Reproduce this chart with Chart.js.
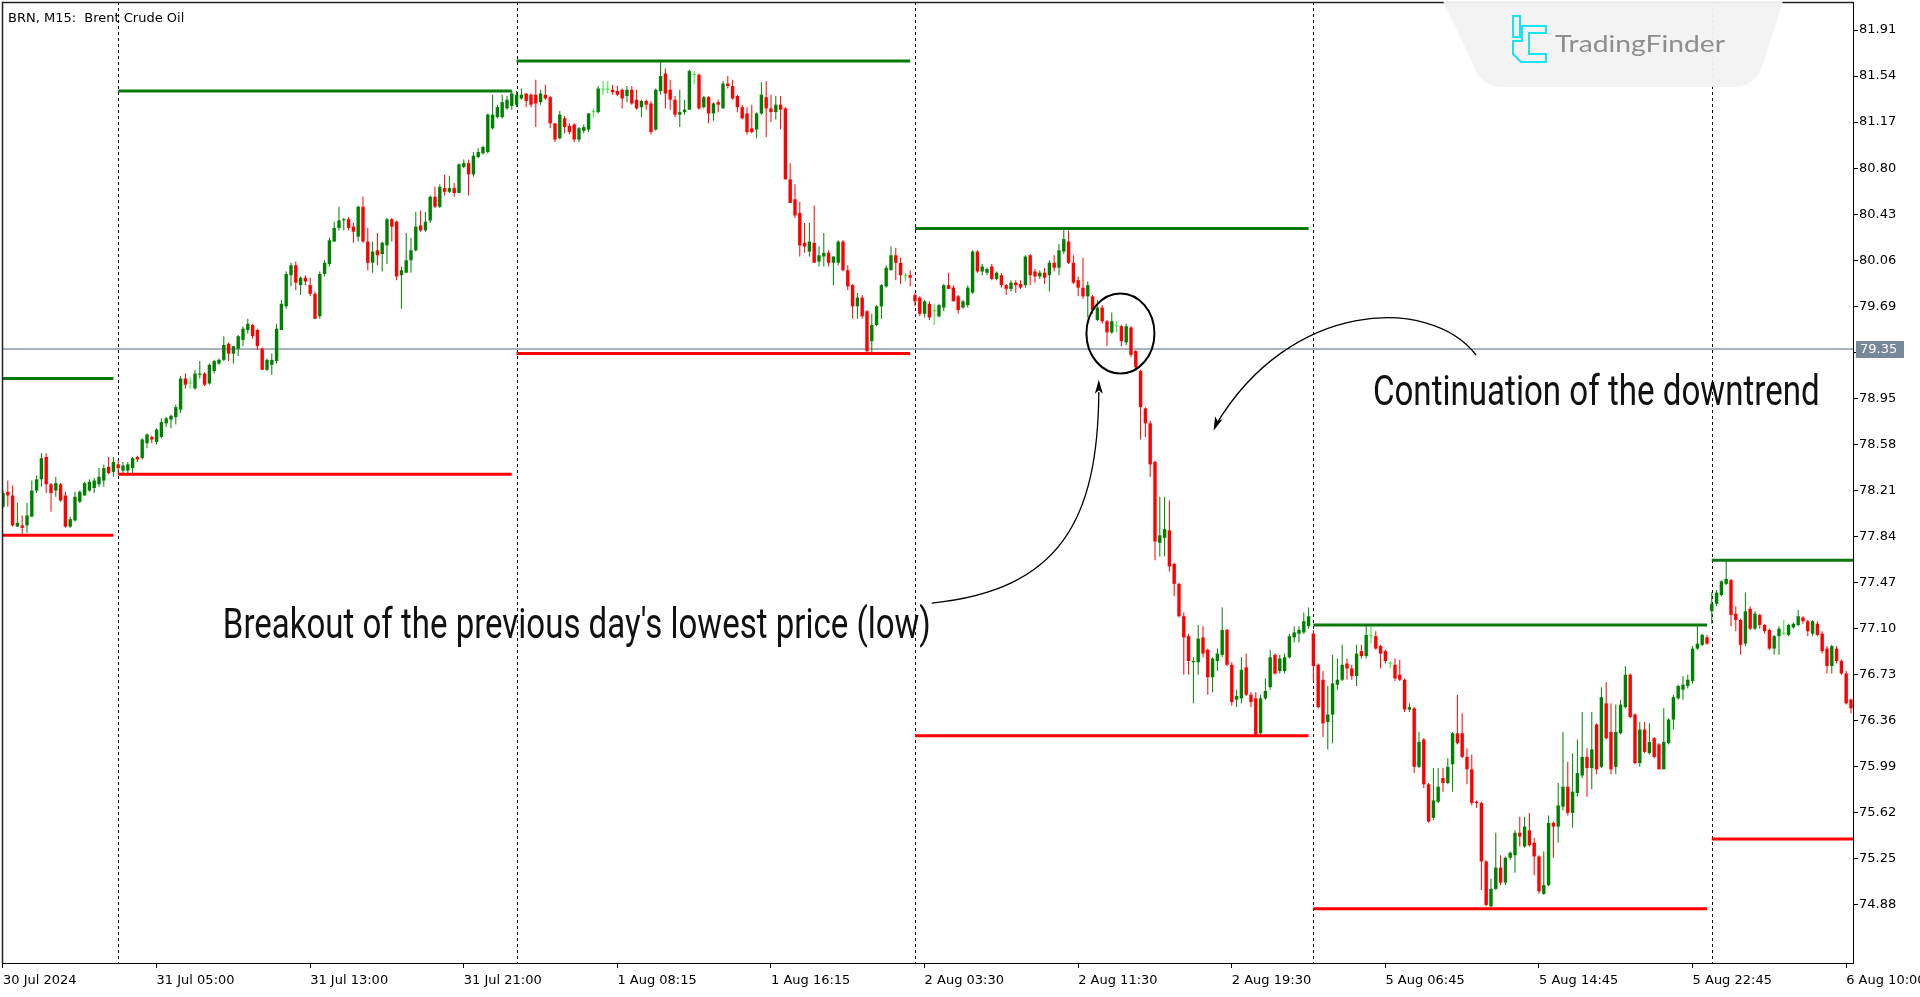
<!DOCTYPE html>
<html><head><meta charset="utf-8">
<script src="https://cdn.jsdelivr.net/npm/chart.js@4.4.1/dist/chart.umd.min.js"></script>
<style>html,body{margin:0;padding:0;background:#fff;overflow:hidden}canvas{display:block}</style>
</head><body>
<canvas id="c" width="1920" height="997"></canvas>
<script>
// ---- M15 candles [open, high, low, close], one array per trading day ----
const jul30 = [
[78.08,78.21,78.07,78.19],[78.20,78.29,78.08,78.17],[78.17,78.25,77.92,77.93],[77.92,78.11,77.92,77.95],
[77.93,78.01,77.86,77.91],[77.93,78.11,77.87,78.01],[78.00,78.29,78.00,78.21],[78.21,78.33,78.19,78.30],
[78.30,78.51,78.24,78.47],[78.48,78.51,78.19,78.26],[78.26,78.27,78.04,78.19],[78.21,78.32,78.16,78.27],
[78.26,78.27,78.12,78.13],[78.17,78.20,77.91,77.92],[77.92,78.00,77.91,77.98],[77.97,78.20,77.96,78.16],
[78.12,78.21,78.11,78.20],[78.17,78.28,78.17,78.27],[78.21,78.30,78.20,78.28],[78.23,78.31,78.19,78.29],
[78.26,78.39,78.24,78.32],[78.29,78.42,78.24,78.39],[78.40,78.48,78.34,78.35],[78.36,78.48,78.32,78.44]
];
const jul31 = [
[78.42,78.46,78.34,78.39],[78.37,78.44,78.34,78.41],[78.37,78.44,78.35,78.42],[78.39,78.48,78.35,78.47],
[78.48,78.49,78.44,78.46],[78.47,78.63,78.46,78.62],[78.59,78.67,78.55,78.66],[78.64,78.65,78.59,78.62],
[78.60,78.71,78.58,78.70],[78.64,78.79,78.63,78.76],[78.75,78.80,78.72,78.79],[78.78,78.82,78.71,78.81],
[78.80,78.90,78.74,78.88],[78.86,79.13,78.83,79.11],[79.11,79.15,79.03,79.06],[79.07,79.12,79.03,79.07],
[79.03,79.18,79.02,79.15],[79.14,79.25,79.11,79.15],[79.15,79.16,79.05,79.06],[79.07,79.23,79.06,79.22],
[79.17,79.26,79.15,79.25],[79.23,79.27,79.22,79.26],[79.26,79.45,79.25,79.38],[79.39,79.40,79.25,79.31],
[79.31,79.37,79.23,79.37],[79.35,79.46,79.29,79.45],[79.42,79.53,79.37,79.51],[79.50,79.59,79.47,79.55],
[79.54,79.55,79.43,79.45],[79.50,79.51,79.34,79.37],[79.35,79.36,79.18,79.18],[79.18,79.27,79.17,79.26],
[79.22,79.31,79.14,79.26],[79.25,79.55,79.23,79.51],[79.50,79.74,79.50,79.71],[79.69,79.97,79.67,79.95],
[79.94,80.04,79.85,80.02],[80.02,80.05,79.82,79.88],[79.86,79.93,79.78,79.92],[79.92,79.94,79.86,79.89],
[79.86,79.92,79.77,79.79],[79.79,79.81,79.59,79.59],[79.61,79.97,79.59,79.95],[79.95,80.06,79.93,80.04],
[80.03,80.24,80.01,80.22],[80.21,80.37,80.21,80.32],[80.32,80.49,80.30,80.38],[80.38,80.40,80.30,80.39],
[80.39,80.41,80.30,80.32],[80.33,80.36,80.20,80.29],[80.25,80.50,80.21,80.49],[80.49,80.57,80.20,80.21],
[80.21,80.32,79.98,80.04],[80.04,80.21,79.96,80.13],[80.14,80.28,80.02,80.10],[80.11,80.21,79.97,80.20],
[80.18,80.40,80.03,80.39],[80.39,80.40,80.21,80.33],[80.37,80.38,79.90,79.93],[79.94,80.01,79.67,79.98],
[79.96,80.28,79.96,80.06],[80.06,80.24,79.96,80.14],[80.14,80.45,80.13,80.33],[80.34,80.46,80.29,80.30],
[80.30,80.45,80.29,80.37],[80.38,80.58,80.36,80.57],[80.57,80.65,80.48,80.49],[80.49,80.67,80.48,80.65],
[80.64,80.75,80.58,80.61],[80.61,80.74,80.60,80.64],[80.64,80.68,80.57,80.60],[80.60,80.84,80.60,80.83],
[80.81,80.87,80.80,80.84],[80.84,80.87,80.58,80.75],[80.75,80.93,80.73,80.90],[80.89,80.96,80.88,80.93],
[80.92,80.98,80.91,80.97],[80.93,81.24,80.92,81.23],[81.12,81.39,81.11,81.23],[81.21,81.31,81.20,81.29],
[81.21,81.39,81.20,81.33],[81.28,81.38,81.27,81.35],[81.30,81.42,81.27,81.40]
];
const aug1 = [
[81.31,81.42,81.29,81.39],[81.36,81.44,81.35,81.39],[81.40,81.40,81.29,81.34],[81.39,81.40,81.29,81.31],
[81.39,81.51,81.13,81.32],[81.33,81.43,81.31,81.40],[81.39,81.47,81.35,81.36],[81.37,81.38,81.12,81.16],
[81.16,81.16,81.01,81.03],[81.04,81.26,81.03,81.23],[81.20,81.22,81.08,81.13],[81.14,81.16,81.07,81.09],
[81.15,81.16,81.01,81.03],[81.03,81.13,81.01,81.12],[81.10,81.15,81.08,81.13],[81.11,81.24,81.09,81.24],
[81.25,81.28,81.21,81.25],[81.25,81.46,81.24,81.44],[81.43,81.50,81.39,81.43],[81.43,81.50,81.40,81.43],
[81.43,81.47,81.39,81.41],[81.42,81.46,81.38,81.39],[81.43,81.44,81.28,81.36],[81.38,81.46,81.33,81.43],
[81.43,81.46,81.31,81.32],[81.35,81.43,81.27,81.28],[81.29,81.35,81.21,81.34],[81.34,81.35,81.27,81.31],
[81.32,81.34,81.07,81.09],[81.11,81.44,81.10,81.43],[81.42,81.66,81.39,81.54],[81.56,81.60,81.28,81.40],
[81.43,81.51,81.27,81.35],[81.35,81.38,81.21,81.23],[81.23,81.43,81.13,81.25],[81.25,81.35,81.23,81.27],
[81.27,81.59,81.27,81.58],[81.55,81.58,81.47,81.55],[81.55,81.56,81.27,81.28],[81.29,81.38,81.28,81.37],
[81.37,81.38,81.16,81.24],[81.24,81.33,81.18,81.32],[81.33,81.35,81.25,81.31],[81.28,81.50,81.28,81.48],
[81.48,81.54,81.44,81.46],[81.46,81.51,81.35,81.36],[81.38,81.39,81.25,81.29],[81.29,81.31,81.19,81.20],
[81.24,81.29,81.07,81.09],[81.12,81.31,81.08,81.09],[81.11,81.25,81.04,81.24],[81.24,81.49,81.23,81.39],
[81.37,81.50,81.05,81.28],[81.28,81.39,81.17,81.25],[81.25,81.38,81.19,81.31],[81.31,81.38,81.11,81.27],
[81.28,81.29,80.71,80.71],[80.71,80.84,80.52,80.52],[80.55,80.67,80.40,80.42],[80.44,80.53,80.09,80.18],
[80.20,80.36,80.12,80.17],[80.13,80.36,80.09,80.21],[80.20,80.50,80.04,80.04],[80.05,80.17,80.01,80.10],
[80.09,80.28,80.01,80.12],[80.12,80.14,80.01,80.04],[80.04,80.09,79.86,80.09],[80.04,80.22,80.02,80.21],
[80.21,80.22,79.97,79.98],[79.98,80.02,79.82,79.85],[79.86,79.87,79.59,79.69],[79.69,79.80,79.59,79.76],
[79.76,79.78,79.59,79.61],[79.65,79.66,79.31,79.33],[79.41,79.63,79.31,79.54],[79.54,79.70,79.53,79.69],
[79.69,79.87,79.59,79.86],[79.85,80.02,79.84,80.00],[79.98,80.17,79.98,80.10],[80.10,80.16,79.90,80.04],
[80.04,80.08,79.87,79.94],[79.93,79.96,79.89,79.93],[79.94,79.98,79.85,79.92]
];
const aug2 = [
[79.78,79.80,79.69,79.73],[79.76,79.77,79.61,79.63],[79.63,79.74,79.60,79.73],[79.71,79.73,79.58,79.60],
[79.65,79.71,79.54,79.65],[79.61,79.71,79.60,79.70],[79.68,79.87,79.65,79.86],[79.86,79.96,79.83,79.83],
[79.84,79.86,79.73,79.73],[79.77,79.78,79.63,79.66],[79.68,79.74,79.67,79.73],[79.70,79.86,79.68,79.84],
[79.80,80.14,79.79,80.13],[80.13,80.14,79.96,79.97],[79.97,80.03,79.94,80.01],[79.96,80.00,79.94,79.99],
[80.01,80.03,79.90,79.91],[79.91,79.97,79.90,79.96],[79.94,79.96,79.84,79.86],[79.86,79.87,79.78,79.83],
[79.83,79.90,79.81,79.88],[79.88,79.90,79.80,79.86],[79.87,79.90,79.83,79.84],[79.86,80.10,79.84,80.09],
[80.10,80.11,79.86,79.94],[79.97,79.99,79.88,79.93],[79.93,79.98,79.91,79.96],[79.96,80.00,79.87,79.92],
[79.94,80.06,79.81,80.04],[80.04,80.10,79.97,80.00],[80.00,80.19,79.94,80.14],[80.13,80.31,80.11,80.23],
[80.21,80.30,80.03,80.04],[80.04,80.10,79.87,79.88],[79.90,79.93,79.77,79.84],[79.84,80.08,79.75,79.77],
[79.77,79.89,79.60,79.86],[79.77,79.78,79.63,79.66],[79.58,79.74,79.57,79.68],[79.68,79.70,79.55,79.57],
[79.57,79.58,79.37,79.48],[79.48,79.64,79.47,79.57],[79.53,79.57,79.48,79.53],[79.53,79.54,79.37,79.41],
[79.40,79.55,79.38,79.53],[79.52,79.53,79.28,79.30],[79.33,79.34,79.17,79.20],[79.17,79.18,78.62,78.88],
[78.87,78.88,78.64,78.75],[78.75,78.77,78.32,78.42],[78.44,78.45,77.65,77.80],[77.79,78.16,77.68,77.85],
[77.83,78.16,77.68,77.90],[77.89,78.13,77.56,77.60],[77.62,77.63,77.36,77.46],[77.46,77.47,77.19,77.20],
[77.20,77.23,76.73,77.03],[77.04,77.06,76.73,76.84],[76.83,76.87,76.50,76.84],[76.83,77.13,76.73,77.02],
[77.03,77.12,76.87,76.90],[76.93,76.94,76.57,76.71],[76.71,76.87,76.59,76.86],[76.84,76.94,76.76,76.90],
[76.89,77.27,76.87,77.09],[77.09,77.10,76.80,76.81],[76.81,76.83,76.48,76.51],[76.53,76.61,76.47,76.56],
[76.54,76.87,76.50,76.77],[76.79,76.90,76.56,76.57],[76.57,76.59,76.47,76.51],[76.54,76.59,76.24,76.24],
[76.26,76.57,76.24,76.54],[76.54,76.70,76.53,76.60],[76.63,76.93,76.61,76.87],[76.89,76.90,76.73,76.74],
[76.76,76.89,76.74,76.86],[76.76,76.90,76.74,76.87],[76.87,77.06,76.86,77.04],[77.03,77.12,76.99,77.07],
[77.06,77.12,76.99,77.09],[77.07,77.23,77.06,77.16],[77.12,77.27,77.10,77.20]
];
const aug5 = [
[77.06,77.09,76.68,76.80],[76.81,76.82,76.46,76.47],[76.69,76.76,76.23,76.34],[76.35,76.64,76.13,76.41],
[76.41,76.89,76.18,76.66],[76.65,76.86,76.61,76.69],[76.69,76.97,76.68,76.81],[76.82,76.86,76.69,76.78],
[76.78,76.81,76.69,76.72],[76.72,76.97,76.64,76.90],[76.92,76.97,76.86,76.88],[76.88,77.13,76.86,77.05],
[77.04,77.12,76.98,77.04],[77.04,77.08,76.93,76.94],[76.96,76.97,76.78,76.90],[76.92,76.93,76.82,76.84],
[76.82,76.84,76.78,76.82],[76.81,76.86,76.68,76.70],[76.73,76.85,76.68,76.69],[76.69,76.70,76.43,76.45],
[76.45,76.50,76.43,76.47],[76.46,76.47,75.94,75.99],[75.99,76.27,75.98,76.19],[76.21,76.22,75.82,75.85],
[75.85,75.86,75.54,75.55],[75.58,75.98,75.56,75.72],[75.71,75.98,75.70,75.83],[75.90,75.98,75.79,75.86],
[75.86,76.06,75.85,75.99],[76.01,76.27,75.79,76.26],[76.26,76.57,76.17,76.18],[76.26,76.42,76.06,76.07],
[76.07,76.14,75.85,75.97],[75.97,76.09,75.68,75.70],[75.71,75.72,75.66,75.70],[75.70,75.71,75.00,75.23],
[75.23,75.24,74.87,74.88],[74.87,75.09,74.85,75.01],[75.01,75.46,75.00,75.18],[75.18,75.28,75.04,75.06],
[75.06,75.27,75.04,75.26],[75.26,75.31,75.24,75.30],[75.28,75.48,75.14,75.46],[75.46,75.59,75.35,75.43],
[75.35,75.59,75.34,75.51],[75.48,75.62,75.35,75.36],[75.38,75.42,75.12,75.27],[75.27,75.28,74.97,74.99],
[74.97,75.31,74.96,75.04],[75.04,75.60,75.03,75.54],[75.54,75.55,75.26,75.51],[75.51,75.86,75.38,75.68],
[75.67,76.27,75.64,75.83],[75.83,76.03,75.60,75.62],[75.62,76.10,75.50,75.79],[75.78,76.21,75.75,75.94],
[75.92,76.43,75.90,76.07],[76.07,76.14,75.75,75.98],[75.98,76.43,75.81,76.13],[76.33,76.34,75.93,75.97],
[75.99,76.63,75.98,76.55],[76.50,76.67,76.21,76.22],[76.27,76.50,75.93,75.97],[75.99,76.49,75.93,76.27],
[76.26,76.53,76.25,76.49],[76.47,76.80,76.46,76.73],[76.73,76.74,76.38,76.39],[76.41,76.42,76.01,76.02],
[76.02,76.35,75.99,76.29],[76.29,76.35,76.10,76.11],[76.10,76.34,76.09,76.19],[76.22,76.23,76.06,76.07],
[76.17,76.18,75.97,75.97],[75.97,76.46,75.97,76.19],[76.18,76.38,76.17,76.37],[76.37,76.57,76.29,76.55],
[76.54,76.65,76.53,76.64],[76.61,76.72,76.53,76.65],[76.64,76.73,76.62,76.69],[76.68,76.96,76.66,76.94],
[76.94,77.12,76.93,76.98],[76.97,77.06,76.96,77.05],[77.03,77.05,76.97,76.98]
];
const aug6 = [
[77.24,77.39,77.14,77.30],[77.30,77.41,77.28,77.39],[77.37,77.49,77.36,77.48],[77.46,77.65,77.45,77.50],
[77.49,77.50,77.12,77.21],[77.22,77.28,77.08,77.17],[77.17,77.18,76.89,76.97],[76.98,77.39,76.96,77.24],
[77.26,77.28,77.09,77.10],[77.10,77.24,77.09,77.22],[77.21,77.22,77.10,77.13],[77.13,77.14,77.06,77.08],
[77.09,77.10,76.93,76.94],[76.94,77.05,76.89,77.04],[77.04,77.12,76.89,77.10],[77.06,77.17,77.05,77.06],
[77.05,77.14,77.04,77.13],[77.11,77.15,77.10,77.14],[77.13,77.25,77.12,77.20],[77.19,77.20,77.14,77.16],
[77.16,77.17,77.04,77.08],[77.06,77.17,77.04,77.16],[77.14,77.16,77.04,77.05],[77.06,77.08,76.90,76.92],
[76.94,76.96,76.74,76.80],[76.80,76.97,76.74,76.96],[76.94,76.96,76.82,76.84],[76.84,76.85,76.73,76.74],
[76.74,76.76,76.49,76.50],[76.53,76.54,76.42,76.46]
];
// daily high / low levels drawn for each session
const dayHigh = [79.11, 81.42, 81.66, 80.315, 77.13, 77.65];
const dayLow  = [77.85, 78.34, 79.31, 76.24, 74.85, 75.41];
// axis ticks
const xTickIndex  = [0, 32, 64, 96, 128, 160, 192, 224, 256, 288, 320, 352, 384];
const xTickLabels = ['30 Jul 2024','31 Jul 05:00','31 Jul 13:00','31 Jul 21:00','1 Aug 08:15','1 Aug 16:15',
  '2 Aug 03:30','2 Aug 11:30','2 Aug 19:30','5 Aug 06:45','5 Aug 14:45','5 Aug 22:45','6 Aug 10:00'];
const yTicks = [74.88,75.25,75.62,75.99,76.36,76.73,77.10,77.47,77.84,78.21,78.58,78.95,79.32,79.69,80.06,80.43,80.80,81.17,81.54,81.91];
const lastPrice = 79.35;

// ---------------------------------------------------------------
const days = [jul30, jul31, aug1, aug2, aug5, aug6];
const candles = days.flat();
const dayStart = []; { let s = 0; for (const d of days) { dayStart.push(s); s += d.length; } }
const X_MIN = -0.208, X_MAX = 385.42, Y_MIN = 74.414, Y_MAX = 82.135;

const BULL = '#008000', BEAR = '#ff0000', DOJI = '#2ee62e';
const colorOf = i => { const c = candles[i]; return c[3] > c[0] ? BULL : (c[3] < c[0] ? BEAR : DOJI); };

const wickData = candles.map((c, i) => ({ x: i, y: [c[2], c[1]] }));
const bodyData = candles.map((c, i) => ({ x: i, y: [c[0], c[3]] }));

function levelLine(vals) {
  const pts = [];
  days.forEach((d, k) => {
    const s = dayStart[k];
    const e = (k === days.length - 1) ? X_MAX : s + d.length - 1;
    pts.push({ x: s, y: vals[k] }, { x: e, y: vals[k] }, { x: e, y: null });
  });
  return pts;
}

function fitText(ctx, text, left, right, baseline, font) {
  ctx.font = font;
  const w = ctx.measureText(text).width;
  ctx.save(); ctx.translate(left, baseline); ctx.scale((right - left) / w, 1);
  ctx.fillText(text, 0, 0); ctx.restore();
}

const decor = {
  id: 'decor',
  beforeDatasetsDraw(chart) {
    const { ctx, chartArea: a, scales: { x, y } } = chart;
    ctx.save();
    // day separators
    ctx.strokeStyle = '#000'; ctx.lineWidth = 1; ctx.setLineDash([3, 3]);
    dayStart.slice(1).forEach(s => {
      const X = Math.round(x.getPixelForValue(s)) + 0.5;
      ctx.beginPath(); ctx.moveTo(X, a.top); ctx.lineTo(X, a.bottom); ctx.stroke();
    });
    ctx.setLineDash([]);
    // last price line
    const Y = Math.round(y.getPixelForValue(lastPrice));
    ctx.strokeStyle = '#8d9aa8'; ctx.lineWidth = 1.5;
    ctx.beginPath(); ctx.moveTo(a.left, Y); ctx.lineTo(a.right, Y); ctx.stroke();
    ctx.restore();
  },
  afterDraw(chart) {
    const { ctx, chartArea: a, scales: { x, y } } = chart;
    const px = v => x.getPixelForValue(v), py = v => y.getPixelForValue(v);
    ctx.save();
    // frame (top / left)
    ctx.strokeStyle = '#222'; ctx.lineWidth = 1.5;
    ctx.beginPath(); ctx.moveTo(a.left + 0.5, a.bottom); ctx.lineTo(a.left + 0.5, a.top + 0.5); ctx.lineTo(a.right, a.top + 0.5); ctx.stroke();

    // title
    ctx.fillStyle = '#000'; ctx.textBaseline = 'alphabetic'; ctx.textAlign = 'left';
    ctx.font = '13px "DejaVu Sans"';
    ctx.fillText('BRN, M15:  Brent Crude Oil', 8, 22);

    // last price label
    const ly = Math.round(py(lastPrice));
    ctx.fillStyle = '#778899';
    ctx.fillRect(a.right + 3, ly - 8, 48, 17);
    ctx.fillStyle = '#fff'; ctx.textBaseline = 'middle';
    ctx.font = '13px "DejaVu Sans"';
    ctx.fillText(lastPrice.toFixed(2), a.right + 7, ly + 0.5);

    // circle around breakout
    ctx.strokeStyle = '#000'; ctx.lineWidth = 2;
    ctx.beginPath(); ctx.ellipse(px(232.8), py(79.472), 34, 40, 0, 0, Math.PI * 2); ctx.stroke();

    // arrows
    ctx.lineWidth = 1.3;
    function arrow(p0, p1, p2, p3, tip) {
      ctx.beginPath(); ctx.moveTo(px(p0[0]), py(p0[1]));
      ctx.bezierCurveTo(px(p1[0]), py(p1[1]), px(p2[0]), py(p2[1]), px(p3[0]), py(p3[1]));
      ctx.stroke();
      const tx = px(tip[0]), ty = py(tip[1]), bx = px(p3[0]), by = py(p3[1]);
      const ang = Math.atan2(ty - by, tx - bx), L = 14, W = 4;
      ctx.beginPath();
      ctx.moveTo(tx, ty);
      ctx.lineTo(tx - L * Math.cos(ang) + W * Math.sin(ang), ty - L * Math.sin(ang) - W * Math.cos(ang));
      ctx.lineTo(tx - L * Math.cos(ang) * 0.75, ty - L * Math.sin(ang) * 0.75);
      ctx.lineTo(tx - L * Math.cos(ang) - W * Math.sin(ang), ty - L * Math.sin(ang) + W * Math.cos(ang));
      ctx.closePath(); ctx.fillStyle = '#000'; ctx.fill();
    }
    arrow([193.5, 77.306], [220.2, 77.41], [228.1, 77.973], [228.3, 79.002], [228.3, 79.10]);
    arrow([306.9, 79.299], [297.3, 79.781], [268.1, 79.741], [252.7, 78.737], [252.2, 78.69]);

    // annotation texts
    ctx.fillStyle = '#111'; ctx.textBaseline = 'alphabetic';
    fitText(ctx, "Breakout of the previous day's lowest price (low)", px(45.8), px(193.3), py(77.029), '42px Roboto');
    fitText(ctx, 'Continuation of the downtrend', px(285.4), px(378.5), py(78.897), '42px Roboto');

    // watermark plate
    ctx.fillStyle = 'rgba(243,243,243,0.96)';
    ctx.beginPath();
    ctx.moveTo(1443, 1); ctx.lineTo(1783, 1); ctx.lineTo(1763, 64);
    ctx.quadraticCurveTo(1756, 87, 1733, 87); ctx.lineTo(1503, 87);
    ctx.quadraticCurveTo(1480, 87, 1473, 64); ctx.closePath(); ctx.fill();
    // logo icon
    ctx.strokeStyle = '#19e3f0'; ctx.lineWidth = 2; ctx.lineJoin = 'miter';
    ctx.strokeRect(1513, 16, 7, 21);
    ctx.beginPath();
    ctx.moveTo(1522, 26); ctx.lineTo(1546, 26); ctx.lineTo(1546, 33); ctx.lineTo(1529, 33);
    ctx.lineTo(1529, 54); ctx.lineTo(1546, 54); ctx.lineTo(1546, 62); ctx.lineTo(1521, 62);
    ctx.lineTo(1513, 54); ctx.lineTo(1513, 41); ctx.lineTo(1522, 41); ctx.closePath(); ctx.stroke();
    ctx.fillStyle = '#8e8e8e';
    fitText(ctx, 'TradingFinder', 1555, 1725, 52, '23px Lato');
    ctx.restore();
  }
};

Chart.defaults.font.family = '"DejaVu Sans"';
Chart.defaults.font.size = 13;
Chart.defaults.color = '#000';

new Chart(document.getElementById('c'), {
  data: {
    datasets: [
      { type: 'bar', data: wickData, grouped: false, barThickness: 1, inflateAmount: 0, backgroundColor: c => colorOf(c.dataIndex), order: 5 },
      { type: 'bar', data: bodyData, grouped: false, barThickness: 3.4, minBarLength: 1, inflateAmount: 0, backgroundColor: c => colorOf(c.dataIndex), order: 4 },
      { type: 'line', data: levelLine(dayHigh), borderColor: '#0a780a', borderWidth: 3, pointRadius: 0, spanGaps: false, order: 1 },
      { type: 'line', data: levelLine(dayLow), borderColor: '#ff0000', borderWidth: 3, pointRadius: 0, spanGaps: false, order: 1 }
    ]
  },
  options: {
    responsive: false, animation: false, devicePixelRatio: 1,
    layout: { padding: { left: 2, top: 2, right: 0, bottom: 0 }, autoPadding: false },
    plugins: { legend: { display: false }, tooltip: { enabled: false } },
    scales: {
      x: {
        type: 'linear', position: 'bottom', min: X_MIN, max: X_MAX, offset: false,
        afterBuildTicks: s => { s.ticks = xTickIndex.map(v => ({ value: v })); },
        afterFit: s => { s.height = 34; s.paddingLeft = 0; s.paddingRight = 0; s.paddingTop = 0; s.paddingBottom = 0; },
        ticks: { align: 'start', maxRotation: 0, autoSkip: false, padding: 5,
          callback: v => xTickLabels[xTickIndex.indexOf(v)] },
        grid: { drawOnChartArea: false, drawTicks: true, tickLength: 5, color: '#000', offset: false },
        border: { display: true, color: '#000', width: 1 }
      },
      y: {
        type: 'linear', position: 'right', min: Y_MIN, max: Y_MAX,
        afterBuildTicks: s => { s.ticks = yTicks.map(v => ({ value: v })); },
        afterFit: s => { s.width = 67; s.paddingTop = 0; s.paddingBottom = 0; s.paddingLeft = 0; s.paddingRight = 0; },
        ticks: { crossAlign: 'near', padding: 1, autoSkip: false, callback: v => v.toFixed(2) },
        grid: { drawOnChartArea: false, drawTicks: true, tickLength: 5, color: '#000' },
        border: { display: true, color: '#000', width: 1 }
      }
    }
  },
  plugins: [decor]
});
</script>
</body></html>
